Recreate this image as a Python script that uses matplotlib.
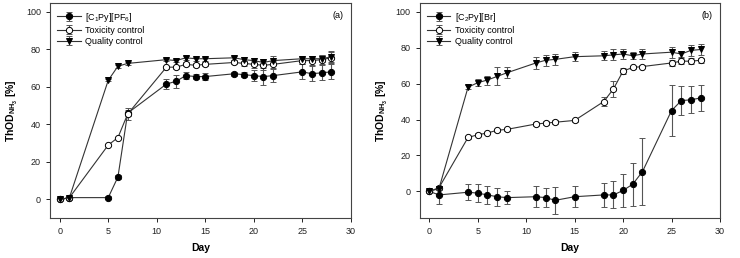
import matplotlib
matplotlib.use("Agg")
import matplotlib.pyplot as plt

plt.rcParams["font.family"] = ["Liberation Sans", "DejaVu Sans"]
plt.rcParams["mathtext.fontset"] = "custom"
plt.rcParams["mathtext.rm"] = "Liberation Sans"

# panel (a)
days_a = [0, 1, 5, 6, 7, 11, 12, 13, 14, 15, 18, 19, 20, 21, 22, 25, 26, 27, 28]
c1py = [0, 1, 1, 12, 46, 61.5, 63, 66, 65.5, 65.5, 67, 66.5, 66, 65.5, 66, 68, 67, 67.5, 68]
c1py_err = [0.5, 0.5, 0.8, 1, 1.5, 2.5, 3.5, 2, 1.5, 2, 1, 1.5, 3, 4.5, 3.5, 4, 4, 4, 4]
tox_a = [0, 1, 29, 33, 45.5, 70.5, 70.5, 72, 71.5, 72, 73, 72.5, 72, 71.5, 72, 74, 74, 74.5, 75.5]
tox_a_err = [0.3, 0.3, 0.5, 0.5, 3, 0.8, 0.8, 1, 1, 1, 1, 1.5, 2, 2.5, 2, 2, 2.5, 2.5, 3]
qc_a = [0, 1, 63.5, 71, 72.5, 74.5, 74, 75.5, 75, 75, 75.5, 74.5, 74, 73, 74, 75, 75, 75, 76]
qc_a_err = [0.3, 0.3, 0.5, 0.8, 0.8, 0.8, 0.8, 1, 1, 1, 1, 1.5, 1.5, 2, 2.5, 1.5, 1.5, 2, 3]

# panel (b)
days_b = [0, 1, 4, 5, 6, 7, 8, 11, 12, 13, 15, 18, 19, 20, 21, 22, 25, 26, 27, 28]
c2py = [0, -2, -0.5, -1, -2, -3, -3.5, -3, -3.5, -5, -3, -2, -2, 0.5, 4, 11, 45, 50.5, 51, 52]
c2py_err = [0.5, 5, 4.5, 5, 5, 5, 3.5, 6, 5.5, 7.5, 6, 6.5, 7.5, 9, 12, 18.5, 14, 8, 7.5, 7.5]
tox_b = [0, 2, 30, 31.5, 32.5, 34, 34.5, 37.5, 38, 38.5, 39.5, 50, 57, 67, 69, 69.5, 71.5, 72.5, 72.5, 73]
tox_b_err = [0.3, 0.5, 0.8, 0.8, 0.8, 0.8, 0.8, 1, 1, 1, 1, 2.5, 4.5, 1.5, 1, 1, 1.5, 1.5, 1.5, 1.5]
qc_b = [0, 1.5, 58, 60.5, 62, 64, 66, 71.5, 73, 73.5, 75, 75.5, 76, 76.5, 75.5, 76.5, 77.5, 76.5, 78.5, 79]
qc_b_err = [0.3, 0.5, 1, 2, 2.5, 5, 3, 3.5, 3, 3, 2.5, 2.5, 3, 3, 2, 3, 3, 1.5, 3, 3]

fig = plt.figure(figsize=(7.4, 2.58), dpi=100)
ax_a = fig.add_axes([0.0676, 0.154, 0.4064, 0.833])
ax_b = fig.add_axes([0.567, 0.154, 0.406, 0.833])

line_kw = dict(color="#333333", lw=0.8, ecolor="#555555", elinewidth=0.8,
               capsize=2.2, capthick=0.8, markersize=4.5, markeredgewidth=0.7,
               markeredgecolor="black")


def draw(ax, days, s1, e1, s2, e2, s3, e3, name, ylim, tag):
    ax.errorbar(days, s1, yerr=e1, marker="o", markerfacecolor="black", label=name, zorder=3, **line_kw)
    ax.errorbar(days, s2, yerr=e2, marker="o", markerfacecolor="white", label="Toxicity control", zorder=3, **line_kw)
    ax.errorbar(days, s3, yerr=e3, marker="v", markerfacecolor="black", label="Quality control", zorder=3, **line_kw)
    ax.set_xlim(-1, 30)
    ax.set_ylim(*ylim)
    ax.set_xticks([0, 5, 10, 15, 20, 25, 30])
    ax.set_yticks([0, 20, 40, 60, 80, 100])
    ax.tick_params(labelsize=6.5, direction="out", length=3, width=0.7, colors="#222222")
    for sp in ax.spines.values():
        sp.set_linewidth(0.8)
        sp.set_color("#444444")
    ax.set_xlabel("Day", fontsize=7.5, fontweight="bold", labelpad=5)
    ax.set_ylabel(r"ThOD$_{\mathregular{NH_3}}$ [%]", fontsize=7.5, fontweight="bold", labelpad=4)
    ax.text(0.975, 0.965, tag, transform=ax.transAxes, ha="right", va="top", fontsize=6.5)
    ax.legend(loc="upper left", frameon=False, fontsize=6.5, handlelength=2.6,
              borderaxespad=0.4, labelspacing=0.25, handletextpad=0.5,
              bbox_to_anchor=(0.0, 1.0))


draw(ax_a, days_a, c1py, c1py_err, tox_a, tox_a_err, qc_a, qc_a_err,
     r"[C$_\mathregular{1}$Py][PF$_\mathregular{6}$]", (-10, 104.5), "(a)")
draw(ax_b, days_b, c2py, c2py_err, tox_b, tox_b_err, qc_b, qc_b_err,
     r"[C$_\mathregular{2}$Py][Br]", (-15, 104.7), "(b)")

plt.savefig("out.png", dpi=100)
plt.close()
